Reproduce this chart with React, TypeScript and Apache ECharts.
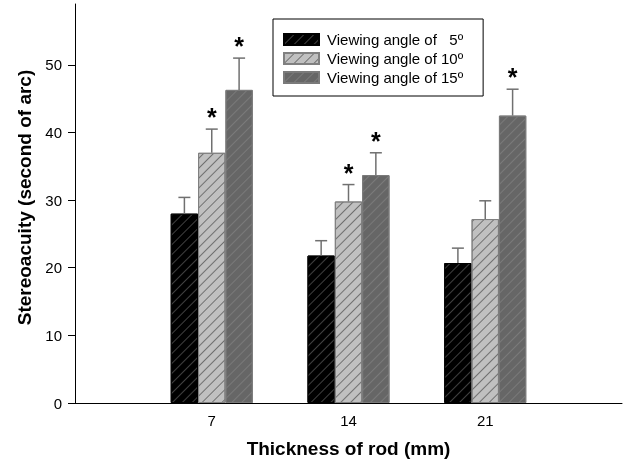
import React, { useEffect, useRef } from 'react';
import * as echarts from 'echarts';

const categories = ['0', '7', '14', '21', '28'];
const seriesNames = ['Viewing angle of\u00A0\u00A0\u00A05º', 'Viewing angle of 10º', 'Viewing angle of 15º'];
const angle5: (number | null)[] = [null, 28.0, 21.8, 20.7, null];
const angle10: (number | null)[] = [null, 37.0, 29.8, 27.2, null];
const angle15: (number | null)[] = [null, 46.3, 33.7, 42.5, null];
const err5: (number | null)[] = [null, 2.4, 2.2, 2.2, null];
const err10: (number | null)[] = [null, 3.5, 2.5, 2.7, null];
const err15: (number | null)[] = [null, 4.7, 3.3, 3.9, null];
const sig5 = [0, 0, 0, 0, 0];
const sig10 = [0, 1, 1, 0, 0];
const sig15 = [0, 1, 1, 1, 0];
const yTicks = [0, 10, 20, 30, 40, 50];
const xTickLabels = ['7', '14', '21'];

const FONT = "'Liberation Sans', Arial, sans-serif";

const fills = ['#000000', '#c0c0c0', '#666666'];
const hatch = ['#404040', '#707070', '#7a7a7a'];
const borders = ['#000000', '#808080', '#7a7a7a'];

export default function App() {
  const ref = useRef<HTMLDivElement>(null);
  useEffect(() => {
    if (!ref.current) return;
    const chart = echarts.init(ref.current, null, { renderer: 'svg' });
    const values = [angle5, angle10, angle15];
    const errs = [err5, err10, err15];
    const sigs = [sig5, sig10, sig15];
    const offsets = [-0.2, 0, 0.2];

    const barSeries = values.map((vals, i) => ({
      type: 'bar',
      name: seriesNames[i],
      data: vals.map((v) => (v == null ? '-' : v)),
      barWidth: '20%',
      barGap: '0%',
      itemStyle: {
        color: fills[i],
        borderColor: borders[i],
        borderWidth: 1,
        decal: {
          symbol: 'rect',
          symbolSize: 1,
          dashArrayX: [1, 0],
          dashArrayY: [0.8, 6],
          rotation: -Math.PI / 4,
          color: hatch[i],
        },
      },
      z: 2,
    }));

    const errSeries = values.map((vals, i) => {
      const data: number[][] = [];
      vals.forEach((v, k) => {
        if (v != null && errs[i][k] != null) data.push([k, v, errs[i][k] as number, sigs[i][k]]);
      });
      return {
        type: 'custom',
        name: 'err' + i,
        data,
        z: 5,
        clip: false,
        renderItem: (params: any, api: any) => {
          const idx = api.value(0);
          const v = api.value(1);
          const e = api.value(2);
          const s = api.value(3);
          const band = api.size([1, 0])[0];
          const base = api.coord([idx, v]);
          const top = api.coord([idx, v + e]);
          const x = base[0] + offsets[i] * band;
          const lineStyle = { stroke: '#707070', lineWidth: 1.5 };
          const children: any[] = [
            { type: 'line', shape: { x1: x, y1: base[1], x2: x, y2: top[1] }, style: lineStyle },
            { type: 'line', shape: { x1: x - 6, y1: top[1], x2: x + 6, y2: top[1] }, style: lineStyle },
          ];
          if (s) {
            children.push({
              type: 'text',
              x,
              y: top[1] - 12,
              style: {
                text: '*',
                fontSize: 25,
                fontWeight: 'bold',
                fontFamily: FONT,
                fill: '#000',
                align: 'center',
                verticalAlign: 'middle',
              },
            });
          }
          return { type: 'group', children };
        },
      };
    });

    chart.setOption({
      animation: false,
      textStyle: { fontFamily: FONT },
      grid: { left: 75, right: 2, top: 4, bottom: 58, containLabel: false, outerBoundsMode: 'none' },
      legend: {
        data: seriesNames,
        orient: 'vertical',
        left: 273,
        top: 19,
        padding: [13, 20, 11, 10],
        borderColor: '#000',
        borderWidth: 1,
        itemGap: 4,
        itemWidth: 35,
        itemHeight: 11,
        icon: 'rect',
        textStyle: { fontSize: 15, color: '#000', fontFamily: FONT, padding: [0, 0, 0, 3] },
      },
      xAxis: {
        type: 'category',
        data: categories,
        boundaryGap: false,
        name: 'Thickness of rod (mm)',
        nameLocation: 'middle',
        nameGap: 36,
        nameTextStyle: { fontSize: 19, fontWeight: 'bold', color: '#000', fontFamily: FONT },
        axisLine: { lineStyle: { color: '#000', width: 1 } },
        axisTick: { show: false },
        axisLabel: {
          fontSize: 15,
          color: '#000',
          margin: 10,
          interval: (idx: number, val: string) => xTickLabels.indexOf(val) >= 0,
        },
        splitLine: { show: false },
      },
      yAxis: {
        type: 'value',
        min: 0,
        max: 59,
        interval: 10,
        name: 'Stereoacuity (second of arc)',
        nameLocation: 'middle',
        nameGap: 41,
        nameTextStyle: { fontSize: 19, fontWeight: 'bold', color: '#000', fontFamily: FONT, padding: [0, 0, 0, 12] },
        axisLine: { show: true, lineStyle: { color: '#000', width: 1 } },
        axisTick: { show: true, inside: false, length: 7, lineStyle: { color: '#000' }, customValues: yTicks },
        axisLabel: {
          fontSize: 15,
          color: '#000',
          margin: 13,
          customValues: yTicks,
          formatter: (v: number) => (yTicks.indexOf(v) >= 0 ? String(v) : ''),
        },
        splitLine: { show: false },
      },
      series: [...barSeries, ...errSeries],
    });
    return () => chart.dispose();
  }, []);
  return <div ref={ref} style={{ position: 'fixed', left: 0, top: 0, width: 624, height: 461 }} />;
}
